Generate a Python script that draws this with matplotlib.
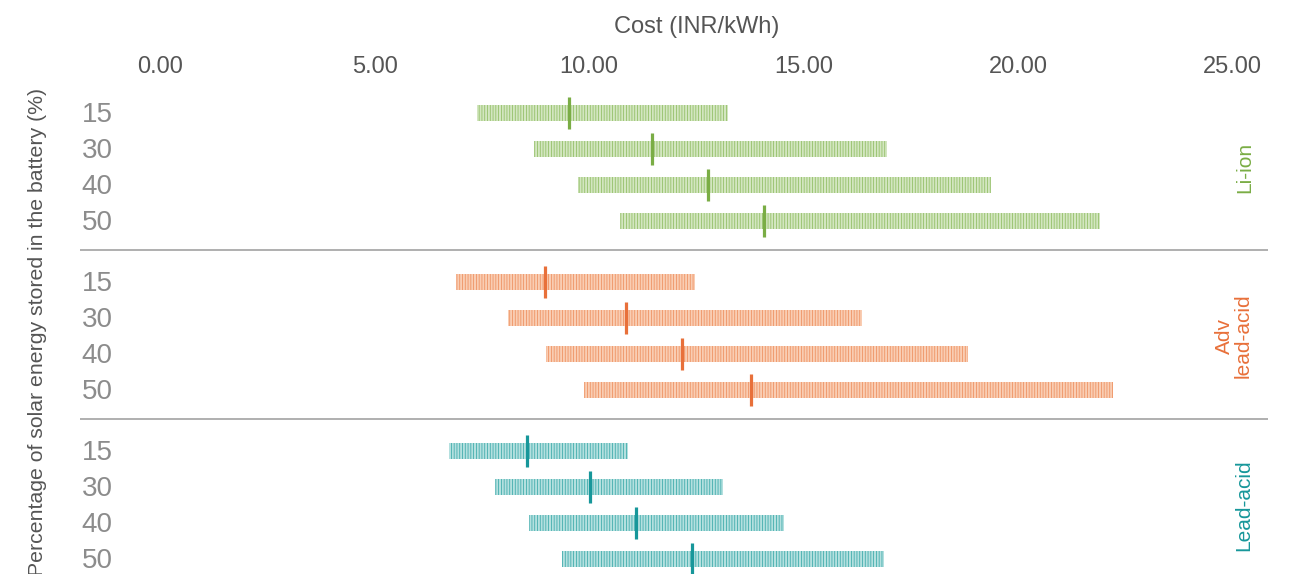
import matplotlib
matplotlib.use("Agg")
import matplotlib.pyplot as plt
from matplotlib.transforms import blended_transform_factory

plt.rcParams['font.family'] = ['Liberation Sans', 'DejaVu Sans']
plt.rcParams['hatch.linewidth'] = 0.55

# dados (INR/kWh)
grupos = ['Li-ion', 'Adv\nlead-acid', 'Lead-acid']
linhas = ['15', '30', '40', '50']

liion_min = [7.39, 8.71, 9.74, 10.72]
liion_max = [13.23, 16.94, 19.36, 21.90]
liion_med = [9.53, 11.46, 12.77, 14.07]

adv_min = [6.90, 8.11, 8.99, 9.88]
adv_max = [12.46, 16.36, 18.83, 22.20]
adv_med = [8.97, 10.86, 12.16, 13.77]

lead_min = [6.73, 7.81, 8.60, 9.37]
lead_max = [10.90, 13.12, 14.54, 16.87]
lead_med = [8.55, 10.02, 11.09, 12.40]

xticks = [0, 5, 10, 15, 20, 25]

cores_claras = ['#d3e6c0', '#f9cdb3', '#b4e0df']
cores_listras = ['#8fbd62', '#ee8f5e', '#3aa9a9']
cores_escuras = ['#7aad45', '#e8703a', '#17979a']

mins = [liion_min, adv_min, lead_min]
maxs = [liion_max, adv_max, lead_max]
meds = [liion_med, adv_med, lead_med]

fig = plt.figure(figsize=(12.97, 5.74), dpi=100)
ax = fig.add_axes([80/1297, 0, (1268-80)/1297, (574-92)/574])

passo = 4.694
for g in range(3):
    ys = [g*passo + j for j in range(4)]
    larguras = [b - a for a, b in zip(mins[g], maxs[g])]
    ax.barh(ys, larguras, left=mins[g], height=0.44, color=cores_claras[g],
            edgecolor=cores_listras[g], hatch='||||||', linewidth=0)
    ax.vlines(meds[g], [y - 0.45 for y in ys], [y + 0.45 for y in ys],
              color=cores_escuras[g], linewidth=2.3)
    for y, lab in zip(ys, linhas):
        ax.text(-1.1, y + 0.05, lab, ha='right', va='center', fontsize=20, color='#8c8c8c')
    if g < 2:
        ax.axhline(g*passo + 3.8, color='#9a9a9a', linewidth=1.1)

# rotulos dos grupos na direita
trans = blended_transform_factory(fig.transFigure, ax.transData)
centros = [1.5, passo + 1.5, 2*passo + 1.5]
xs = [1245/1297, 1234/1297, 1244/1297]
for g in range(3):
    ax.text(xs[g], centros[g], grupos[g], transform=trans, rotation=90,
            ha='center', va='center', multialignment='center',
            fontsize=15, color=cores_escuras[g], linespacing=1.0)

ax.set_xlim(-1.864, 25.82)
ax.set_ylim(12.806, -0.583)
ax.xaxis.tick_top()
ax.set_xticks(xticks)
ax.set_xticklabels(['%.2f' % v for v in xticks])
ax.tick_params(axis='x', length=0, pad=10, labelsize=17, labelcolor='#555555')
ax.set_yticks([])
for s in ax.spines.values():
    s.set_visible(False)

fig.text(697/1297, 1 - 27/574, 'Cost (INR/kWh)', ha='center', va='center',
         fontsize=17, color='#555555')
fig.text(38/1297, 1 - 88/574, 'Percentage of solar energy stored in the battery (%)',
         rotation=90, ha='center', va='top', fontsize=15.3, color='#555555')

fig.savefig('out.png', dpi=100)
